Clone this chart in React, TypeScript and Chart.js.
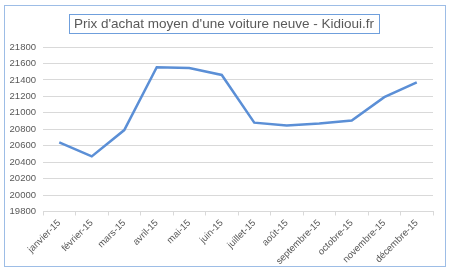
import React, { useEffect, useRef } from "react";
import { Chart, registerables } from "chart.js";

Chart.register(...registerables);

const TITLE = "Prix d'achat moyen d'une voiture neuve - Kidioui.fr";
const months = [
  "janvier-15", "février-15", "mars-15", "avril-15", "mai-15", "juin-15",
  "juillet-15", "août-15", "septembre-15", "octobre-15", "novembre-15", "décembre-15",
];
const prices = [20640, 20470, 20790, 21555, 21545, 21460, 20880, 20845, 20870, 20905, 21190, 21370];
const yMin = 19800;
const yMax = 21800;
const yStep = 200;

const FONT = "'Liberation Sans', Arial, sans-serif";
const TITLE_SIZE = 13.5;
const TICK_SIZE = 9.5;

const boxedTitle = {
  id: "boxedTitle",
  afterDraw(chart: any) {
    const ctx = chart.ctx;
    ctx.save();
    ctx.font = `${TITLE_SIZE}px ${FONT}`;
    const w = ctx.measureText(TITLE).width;
    const cx = 224;
    const cy = 23.5;
    ctx.fillStyle = "#595959";
    ctx.textAlign = "center";
    ctx.textBaseline = "middle";
    ctx.fillText(TITLE, cx, cy + 0.5);
    ctx.strokeStyle = "#6f9fdc";
    ctx.lineWidth = 1;
    ctx.strokeRect(Math.round(cx - w / 2 - 5) + 0.5, 14.5, Math.round(w + 10), 19);
    ctx.restore();
  },
};

export default function App() {
  const ref = useRef<HTMLCanvasElement>(null);
  useEffect(() => {
    document.body.style.margin = "0";
    const chart = new Chart(ref.current!, {
      type: "line",
      data: {
        labels: months,
        datasets: [
          {
            data: prices,
            borderColor: "#5b8fd6",
            borderWidth: 2.5,
            pointRadius: 0,
            tension: 0,
            fill: false,
          },
        ],
      },
      options: {
        animation: false,
        responsive: false,
        layout: { padding: { left: 4, right: 17, top: 47, bottom: 2 } },
        plugins: {
          legend: { display: false },
          tooltip: { enabled: false },
          title: { display: false },
        },
        scales: {
          x: {
            offset: true,
            grid: {
              display: true,
              offset: true,
              drawOnChartArea: false,
              drawTicks: true,
              tickLength: 4,
              color: "#d9d9d9",
            },
            border: { display: true, color: "#d9d9d9" },
            ticks: {
              color: "#595959",
              font: { family: FONT, size: TICK_SIZE },
              minRotation: 45,
              maxRotation: 45,
              autoSkip: false,
              padding: 2,
            },
          },
          y: {
            min: yMin,
            max: yMax,
            afterFit(scale: any) {
              scale.width = 39;
            },
            grid: { color: "#d9d9d9", drawTicks: false },
            border: { display: false },
            ticks: {
              stepSize: yStep,
              color: "#595959",
              font: { family: FONT, size: TICK_SIZE },
              padding: 7,
              callback: (v: any) => String(v),
            },
          },
        },
      },
      plugins: [boxedTitle],
    });
    return () => chart.destroy();
  }, []);
  return (
    <div style={{ position: "relative", width: 450, height: 271, background: "#fff" }}>
      <canvas ref={ref} width={450} height={271} style={{ display: "block" }} />
      <div
        style={{
          position: "absolute",
          left: 4,
          top: 5,
          width: 440,
          height: 260,
          border: "1px solid #9dbde6",
          pointerEvents: "none",
        }}
      />
    </div>
  );
}
